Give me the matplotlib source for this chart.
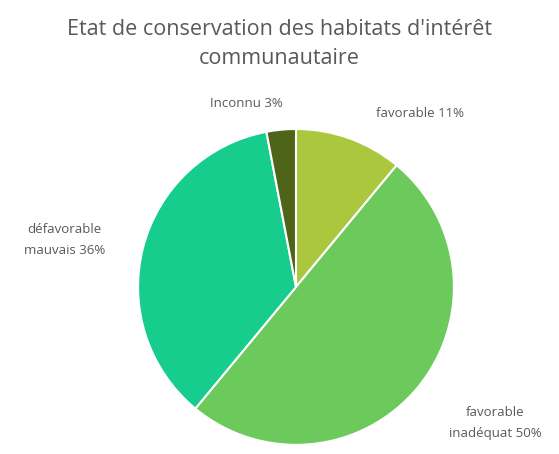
import matplotlib
matplotlib.use("Agg")
import matplotlib.pyplot as plt

# Etat de conservation des habitats d'intérêt communautaire
categories = ["favorable", "favorable\ninadéquat", "défavorable\nmauvais", "Inconnu"]
values = [11, 50, 36, 3]
colors = ["#aac73e", "#6cc95b", "#17cd8d", "#4e6418"]

plt.rcParams['font.family'] = ['Open Sans', 'DejaVu Sans']

fig = plt.figure(figsize=(5.59, 4.54), dpi=100)
fig.patch.set_facecolor("white")

ax = fig.add_axes([0.247, 0.020, 0.565, 0.696])
ax.pie(values, colors=colors, startangle=90, counterclock=False,
       wedgeprops=dict(edgecolor="white", linewidth=1.5))
ax.set_xlim(-1, 1)
ax.set_ylim(-1, 1)
ax.set_aspect("equal")

fig.text(0.5, 0.903, "Etat de conservation des habitats d'intérêt\ncommunautaire",
         ha="center", va="center", fontsize=15.5, color="#595959", linespacing=1.45)

# labels placed next to their slices
label_pos = [(0.752, 0.749), (0.886, 0.068), (0.115, 0.471), (0.44, 0.773)]
for cat, val, (x, y) in zip(categories, values, label_pos):
    fig.text(x, y, f"{cat} {val}%", ha="center", va="center",
             fontsize=9.5, color="#595959", linespacing=1.75)

fig.savefig("out.png", dpi=100)
